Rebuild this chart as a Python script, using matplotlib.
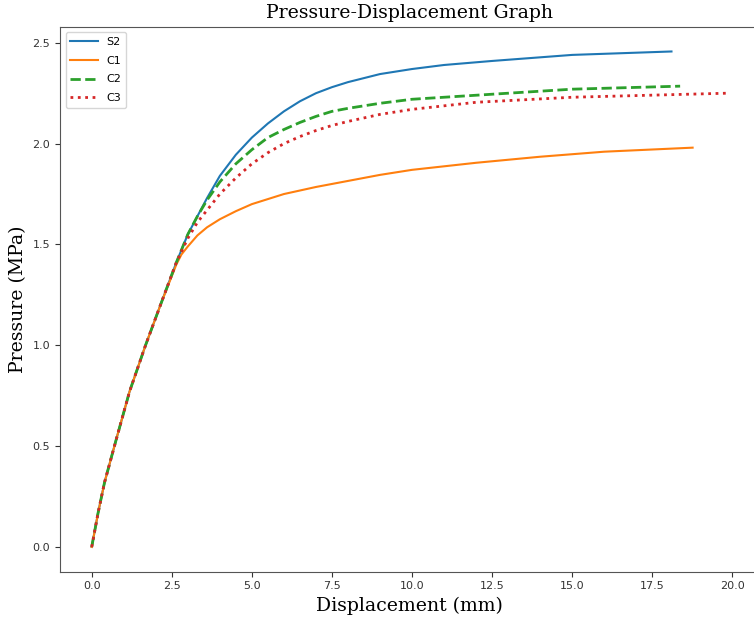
import matplotlib
matplotlib.use("Agg")
import matplotlib.pyplot as plt

# readings from the reference curves (displacement mm, pressure MPa)
s2_x = [0.0, 0.2, 0.4, 0.76, 1.18, 1.68, 2.17, 2.64, 3.0, 3.3, 3.6, 4.0, 4.5, 5.0, 5.5, 6.0, 6.5, 7.0, 7.5, 8.0, 9.0, 10.0, 11.0, 12.5, 15.0, 18.1]
s2_y = [0.0, 0.17, 0.32, 0.53, 0.77, 1.00, 1.21, 1.41, 1.55, 1.64, 1.73, 1.84, 1.945, 2.03, 2.10, 2.16, 2.21, 2.25, 2.28, 2.305, 2.345, 2.37, 2.39, 2.41, 2.44, 2.457]

c1_x = [0.0, 0.2, 0.4, 0.76, 1.18, 1.68, 2.17, 2.64, 2.8, 3.0, 3.3, 3.6, 4.0, 4.5, 5.0, 5.5, 6.0, 7.0, 8.0, 9.0, 10.0, 12.0, 14.0, 16.0, 18.76]
c1_y = [0.0, 0.17, 0.32, 0.53, 0.77, 1.00, 1.21, 1.40, 1.45, 1.49, 1.545, 1.585, 1.625, 1.665, 1.70, 1.725, 1.75, 1.785, 1.815, 1.845, 1.87, 1.905, 1.935, 1.96, 1.98]

c2_x = [0.0, 0.2, 0.4, 0.76, 1.18, 1.68, 2.17, 2.64, 3.0, 3.3, 3.6, 4.0, 4.5, 5.0, 5.5, 6.0, 6.5, 7.0, 7.5, 8.0, 9.0, 10.0, 12.0, 15.0, 18.37]
c2_y = [0.0, 0.17, 0.32, 0.53, 0.77, 1.00, 1.21, 1.41, 1.55, 1.64, 1.72, 1.81, 1.90, 1.97, 2.03, 2.07, 2.105, 2.135, 2.16, 2.175, 2.20, 2.22, 2.24, 2.27, 2.285]

c3_x = [0.0, 0.2, 0.4, 0.76, 1.18, 1.68, 2.17, 2.64, 3.0, 3.3, 3.7, 4.0, 4.5, 5.0, 5.5, 6.0, 6.5, 7.0, 7.5, 8.0, 9.0, 10.0, 12.0, 15.0, 19.83]
c3_y = [0.0, 0.17, 0.32, 0.53, 0.77, 1.00, 1.21, 1.41, 1.53, 1.61, 1.69, 1.75, 1.83, 1.90, 1.955, 2.00, 2.035, 2.065, 2.09, 2.11, 2.145, 2.17, 2.205, 2.23, 2.25]

fig = plt.figure(figsize=(7.54, 6.21), dpi=100)
ax = fig.add_axes([0.0796, 0.0794, 0.9265, 0.8776])

ax.plot(s2_x, s2_y, color='#1f77b4', lw=1.5, label='S2')
ax.plot(c1_x, c1_y, color='#ff7f0e', lw=1.5, label='C1')
ax.plot(c2_x, c2_y, color='#2ca02c', lw=2, ls='--', label='C2')
ax.plot(c3_x, c3_y, color='#d62728', lw=2, ls=':', label='C3')

ax.set_xlim(-0.99, 20.82)
ax.set_xticks([0, 2.5, 5, 7.5, 10, 12.5, 15, 17.5, 20])
ax.set_yticks([0, 0.5, 1.0, 1.5, 2.0, 2.5])
ax.tick_params(labelsize=8, colors='#333333', length=3.5)
for s in ax.spines.values():
    s.set_color('#555555')
ax.spines['right'].set_visible(False)

ax.set_title('Pressure-Displacement Graph', family='DejaVu Serif', fontsize=13.6)
ax.set_xlabel('Displacement (mm)', family='DejaVu Serif', fontsize=13.6)
ax.set_ylabel('Pressure (MPa)', family='DejaVu Serif', fontsize=13.6)
ax.legend(loc='upper left', fontsize=8, handlelength=2.5, labelspacing=0.8)

fig.savefig('out.png', dpi=100)
